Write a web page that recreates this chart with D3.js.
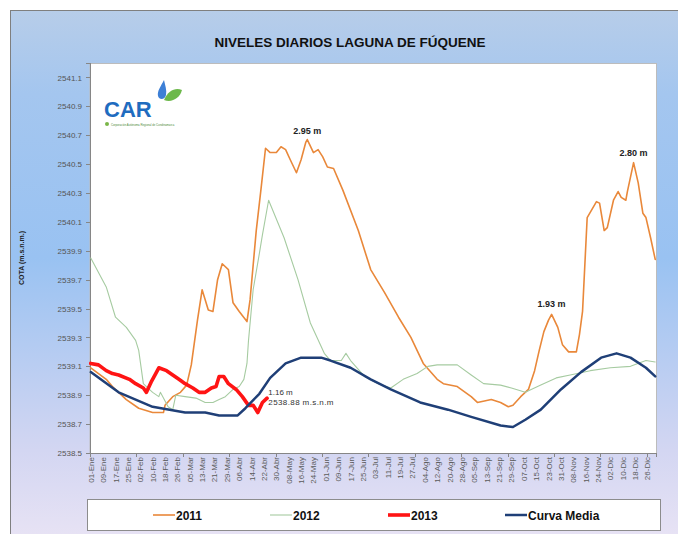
<html>
<head>
<meta charset="utf-8">
<title>Niveles diarios Laguna de Fúquene</title>
<style>
  body { margin: 0; background: #ffffff; }
  svg { display: block; font-family: "Liberation Sans", Arial, sans-serif; }
  .axis path, .axis line { fill: none; stroke: #868686; shape-rendering: crispEdges; }
  .axis text { font-size: 8px; fill: #555; }
</style>
</head>
<body>
<script src="https://cdn.jsdelivr.net/npm/d3@7/dist/d3.min.js"></script>
<script>

var width = 678;
var height = 534;

// etiquetas del eje x (cada 8 dias, año bisiesto)
var xLabels = ["01-Ene","09-Ene","17-Ene","25-Ene","02-Feb","10-Feb","18-Feb","26-Feb",
  "05-Mar","13-Mar","21-Mar","29-Mar","06-Abr","14-Abr","22-Abr","30-Abr",
  "08-May","16-May","24-May","01-Jun","09-Jun","17-Jun","25-Jun","03-Jul",
  "11-Jul","19-Jul","27-Jul","04-Ago","12-Ago","20-Ago","28-Ago","05-Sep",
  "13-Sep","21-Sep","29-Sep","07-Oct","15-Oct","23-Oct","31-Oct","08-Nov",
  "16-Nov","24-Nov","02-Dic","10-Dic","18-Dic","26-Dic"];
var labelStep = 8;
var nDays = 366;
var tickStep = 30;

var yTicks = [2538.5, 2538.7, 2538.9, 2539.1, 2539.3, 2539.5, 2539.7, 2539.9,
  2540.1, 2540.3, 2540.5, 2540.7, 2540.9, 2541.1];

// 2011
var days2011 = [0,10,14,23,31,40,47,48,53,58,62,65,69,72,76,79,82,85,89,92,96,101,103,107,110,113,116,120,123,126,129,133,136,139,140,144,147,150,153,157,163,173,181,190,199,207,215,224,228,237,246,250,259,265,270,273,278,283,287,290,293,296,298,302,305,309,314,316,318,321,327,329,332,334,338,341,343,346,347,351,354,357,359,362,365];
var cota2011 = [2539.09,2539.01,2538.96,2538.87,2538.81,2538.78,2538.78,2538.83,2538.89,2538.92,2538.97,2539.11,2539.42,2539.63,2539.49,2539.48,2539.70,2539.81,2539.77,2539.54,2539.48,2539.41,2539.56,2540.04,2540.32,2540.61,2540.58,2540.58,2540.62,2540.60,2540.53,2540.44,2540.53,2540.65,2540.67,2540.58,2540.60,2540.55,2540.48,2540.47,2540.32,2540.04,2539.77,2539.61,2539.44,2539.30,2539.12,2539.01,2538.98,2538.96,2538.89,2538.85,2538.87,2538.85,2538.82,2538.83,2538.89,2538.94,2539.07,2539.21,2539.34,2539.42,2539.46,2539.37,2539.25,2539.20,2539.20,2539.32,2539.48,2540.13,2540.24,2540.23,2540.04,2540.06,2540.25,2540.31,2540.27,2540.25,2540.31,2540.51,2540.37,2540.16,2540.13,2539.99,2539.84];

// 2012
var days2012 = [0,10,16,23,29,31,34,36,40,44,45,47,50,53,55,61,68,74,79,83,87,92,96,99,101,102,105,109,111,115,125,134,142,151,155,162,165,168,177,186,194,202,211,218,224,237,246,254,265,272,281,291,301,310,323,336,349,359,365];
var cota2012 = [2539.85,2539.65,2539.44,2539.37,2539.28,2539.21,2538.98,2538.96,2538.92,2538.89,2538.92,2538.88,2538.82,2538.80,2538.90,2538.89,2538.88,2538.85,2538.85,2538.87,2538.89,2538.94,2538.96,2539.01,2539.12,2539.28,2539.63,2539.88,2540.01,2540.25,2539.99,2539.70,2539.40,2539.19,2539.14,2539.14,2539.19,2539.14,2539.03,2538.98,2538.95,2539.01,2539.05,2539.10,2539.11,2539.11,2539.04,2538.98,2538.97,2538.95,2538.92,2538.97,2539.02,2539.04,2539.07,2539.09,2539.10,2539.14,2539.13];

// 2013
var days2013 = [0,5,10,14,18,25,29,34,36,39,42,44,49,53,57,61,66,70,74,78,81,83,86,89,94,98,102,105,108,111,114];
var cota2013 = [2539.12,2539.11,2539.07,2539.05,2539.04,2539.01,2538.98,2538.95,2538.92,2538.99,2539.05,2539.09,2539.07,2539.04,2539.01,2538.98,2538.95,2538.92,2538.92,2538.95,2538.96,2539.03,2539.03,2538.98,2538.94,2538.89,2538.83,2538.83,2538.78,2538.85,2538.88];

// Curva Media
var daysMedia = [0,18,40,61,74,83,95,100,109,116,126,136,149,155,168,181,194,213,231,246,265,273,281,291,304,317,330,340,349,359,365];
var cotaMedia = [2539.06,2538.92,2538.82,2538.78,2538.78,2538.76,2538.76,2538.81,2538.91,2539.02,2539.12,2539.16,2539.16,2539.14,2539.09,2539.01,2538.94,2538.85,2538.80,2538.75,2538.69,2538.68,2538.73,2538.80,2538.94,2539.06,2539.16,2539.19,2539.16,2539.09,2539.03];

var seriesNames = ["2011", "2012", "2013", "Curva Media"];
var seriesColors = ["#e9883a", "#a6cba1", "#ff1414", "#1f3f77"];
var seriesWidths = [1.6, 1.1, 3.6, 2.5];
var seriesDays = [days2011, days2012, days2013, daysMedia];
var seriesCota = [cota2011, cota2012, cota2013, cotaMedia];

var svg = d3.select("body")
  .append("svg")
  .attr("width", width)
  .attr("height", height);

var defs = svg.append("defs");
var grad = defs.append("linearGradient")
  .attr("id", "fondo")
  .attr("x1", 0).attr("y1", 0).attr("x2", 0).attr("y2", 1);
grad.append("stop").attr("offset", "0%").attr("stop-color", "#b7cde9");
grad.append("stop").attr("offset", "15%").attr("stop-color", "#a4c6ef");
grad.append("stop").attr("offset", "45%").attr("stop-color", "#99c2f2");
grad.append("stop").attr("offset", "80%").attr("stop-color", "#d3d6f2");
grad.append("stop").attr("offset", "100%").attr("stop-color", "#ede6f5");

svg.append("rect")
  .attr("x", 10.5).attr("y", 10.5)
  .attr("width", 690).attr("height", 550)
  .attr("fill", "url(#fondo)")
  .attr("stroke", "#7f7f7f");

svg.append("text")
  .attr("x", 350).attr("y", 47)
  .attr("text-anchor", "middle")
  .attr("font-size", 13.5)
  .attr("font-weight", "bold")
  .attr("fill", "#111")
  .text("NIVELES DIARIOS LAGUNA DE FÚQUENE");

var plot = { left: 90, top: 63, right: 656, bottom: 453 };

svg.append("rect")
  .attr("x", plot.left).attr("y", plot.top + 0.5)
  .attr("width", plot.right - plot.left + 0.5)
  .attr("height", plot.bottom - plot.top)
  .attr("fill", "#ffffff")
  .attr("stroke", "#bcbcbc");

var x = d3.scaleLinear()
  .domain([0, nDays])
  .range([plot.left, plot.right]);

var y = d3.scaleLinear()
  .domain([2538.5, 2541.2])
  .range([plot.bottom, plot.top]);

// logo CAR
var logo = svg.append("g").attr("transform", "translate(104,78)");
logo.append("text")
  .attr("x", 0).attr("y", 39)
  .attr("font-size", 22)
  .attr("font-weight", "bold")
  .attr("fill", "#1f6cbf")
  .text("CAR");
logo.append("path")
  .attr("d", "M60,2 C57,8 53,13 54,18 C55,22 61,22 62,17 C63,12 61,7 60,2 Z")
  .attr("fill", "#3d7fd6");
logo.append("path")
  .attr("d", "M60,22 C64,12 72,9 78,12 C76,20 68,25 60,22 Z")
  .attr("fill", "#6cb84a");
logo.append("circle")
  .attr("cx", 3).attr("cy", 46).attr("r", 2)
  .attr("fill", "#7ab648");
logo.append("text")
  .attr("x", 7).attr("y", 47.5)
  .attr("font-size", 2.8)
  .attr("fill", "#4d8a3a")
  .text("Corporación Autónoma Regional de Cundinamarca");

// eje y
var yAxis = d3.axisLeft(y)
  .tickValues(yTicks)
  .tickSize(4)
  .tickPadding(4)
  .tickFormat(d3.format(".1f"));
svg.append("g")
  .attr("class", "axis")
  .attr("transform", "translate(" + plot.left + ",0)")
  .call(yAxis);

svg.append("text")
  .attr("transform", "translate(24,258) rotate(-90)")
  .attr("text-anchor", "middle")
  .attr("font-size", 7)
  .attr("font-weight", "bold")
  .attr("fill", "#222")
  .text("COTA (m.s.n.m.)");

// eje x: marcas cada 30 dias, etiquetas cada 8 dias
var xAxis = d3.axisBottom(x)
  .tickValues(d3.range(0, nDays, tickStep))
  .tickSize(4)
  .tickFormat("");
svg.append("g")
  .attr("class", "axis")
  .attr("transform", "translate(0," + plot.bottom + ")")
  .call(xAxis);

svg.append("g")
  .selectAll("text")
  .data(xLabels)
  .enter()
  .append("text")
  .attr("transform", function(d, i) {
    return "translate(" + (x(i * labelStep + 0.5) + 3) + "," + (plot.bottom + 4) + ") rotate(-90)";
  })
  .attr("text-anchor", "end")
  .attr("font-size", 8)
  .attr("fill", "#5a5a5a")
  .text(function(d) { return d; });

// series
var line = d3.line()
  .x(function(d) { return x(d[0] + 0.5); })
  .y(function(d) { return y(d[1]); });

seriesNames.forEach(function(name, k) {
  var pts = seriesDays[k].map(function(dd, i) { return [dd, seriesCota[k][i]]; });
  svg.append("path")
    .datum(pts)
    .attr("d", line)
    .attr("fill", "none")
    .attr("stroke", seriesColors[k])
    .attr("stroke-width", seriesWidths[k])
    .attr("stroke-linejoin", "round")
    .attr("stroke-linecap", "round");
});

// anotaciones
var notes = [
  { t: "2.95 m", d: 140, v: 2540.67, dy: -6 },
  { t: "1.93 m", d: 298, v: 2539.46, dy: -7 },
  { t: "2.80 m", d: 351, v: 2540.51, dy: -7 }
];
svg.append("g")
  .selectAll("text")
  .data(notes)
  .enter()
  .append("text")
  .attr("x", function(d) { return x(d.d + 0.5); })
  .attr("y", function(d) { return y(d.v) + d.dy; })
  .attr("text-anchor", "middle")
  .attr("font-size", 9)
  .attr("font-weight", "bold")
  .attr("fill", "#222")
  .text(function(d) { return d.t; });

var last = days2013.length - 1;
svg.append("text")
  .attr("x", x(days2013[last]) + 2)
  .attr("y", y(cota2013[last]) - 3)
  .attr("font-size", 8)
  .attr("fill", "#333")
  .text("1.16 m");
svg.append("text")
  .attr("x", x(days2013[last]) + 2)
  .attr("y", y(cota2013[last]) + 7)
  .attr("font-size", 8)
  .attr("letter-spacing", 0.4)
  .attr("fill", "#333")
  .text("2538.88 m.s.n.m");

// leyenda
svg.append("rect")
  .attr("x", 87.5).attr("y", 499.5)
  .attr("width", 573).attr("height", 31)
  .attr("fill", "#ffffff")
  .attr("stroke", "#8c8c8c");

var legendX = [153, 270, 388, 505];
var leg = svg.append("g")
  .selectAll("g")
  .data(seriesNames)
  .enter()
  .append("g")
  .attr("transform", function(d, i) { return "translate(" + legendX[i] + ",515)"; });
leg.append("line")
  .attr("x1", 0).attr("x2", 22)
  .attr("y1", 0).attr("y2", 0)
  .attr("stroke", function(d, i) { return seriesColors[i]; })
  .attr("stroke-width", function(d, i) { return seriesWidths[i]; });
leg.append("text")
  .attr("x", 23).attr("y", 4.5)
  .attr("font-size", 12)
  .attr("font-weight", "bold")
  .attr("fill", "#111")
  .text(function(d) { return d; });

</script>
</body>
</html>
